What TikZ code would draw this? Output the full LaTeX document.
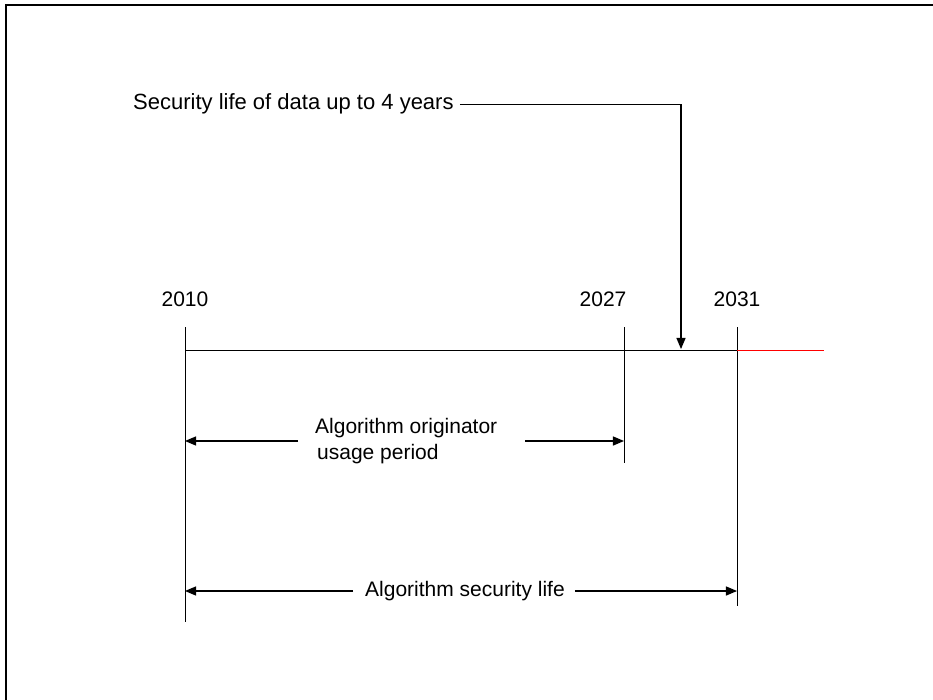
\documentclass[tikz,border=0pt]{standalone}
\usepackage{fontspec}
\setmainfont{Liberation Sans}
\usetikzlibrary{arrows}

\begin{document}
\begin{tikzpicture}[x=1pt, y=-1pt, line join=miter, >=triangle 45, every node/.style={font=\fontsize{21}{26}\selectfont, inner sep=0pt}, span/.style={line width=1.6pt, ->}]
    \useasboundingbox (0,0) rectangle (933,700);
    \draw[line width=2pt] (6,700) -- (6,5) -- (933,5);
    % tick marks and time line
    \coordinate (tk0) at (185,327);
    \coordinate (tk1) at (624,327);
    \coordinate (tk2) at (737,327);
    \coordinate (bt0) at (185,622);
    \coordinate (bt1) at (624,463);
    \coordinate (bt2) at (737,606);
    \coordinate (lnend) at (824,350);
    \draw[line width=0.9pt] (tk0) -- (bt0);
    \draw[line width=0.9pt] (tk1) -- (bt1);
    \draw[line width=0.9pt] (tk2) -- (bt2);
    \draw[line width=0.9pt] (tk0 |- lnend) -- (tk2 |- lnend);
    \draw[line width=0.9pt, red] (tk2 |- lnend) -- (lnend);
    % years
    \draw(185,306) node[anchor=base] (y0) {2010};
    \draw(603,306) node[anchor=base] (y1) {2027};
    \draw(737,306) node[anchor=base] (y2) {2031};
    % data life
    \draw(133,110) node[anchor=base west, font=\fontsize{22}{26}\selectfont] (title) {Security life of data up to 4 years};
    \coordinate (tip) at (681,349);
    \draw[span] ([xshift=6pt]title.east) -| (tip);
    % periods
    \draw(315,441) node[anchor=west, align=left] (usage) {Algorithm originator\\ \hspace{2pt}usage period};
    \draw[span] ([xshift=-17pt]usage.west) -- (usage.west -| tk0);
    \draw[span] ([xshift=28pt]usage.east) -- (usage.east -| tk1);
    \draw(465,591) node (life) {Algorithm security life};
    \draw[span] ([xshift=-12pt]life.west) -- (life.west -| tk0);
    \draw[span] ([xshift=10pt]life.east) -- (life.east -| tk2);
\end{tikzpicture}
\end{document}
